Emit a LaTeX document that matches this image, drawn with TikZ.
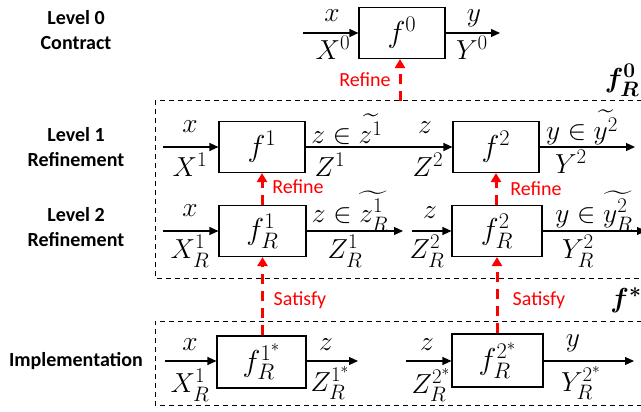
\RequirePackage{fix-cm}
\documentclass[tikz,border=0pt]{standalone}
\usepackage{amsmath}
\usepackage{bm}
\usepackage{fontspec}
\newfontfamily\lblfont{Carlito}
\DeclareMathSizes{25}{25}{19}{14}
\DeclareMathSizes{27}{27}{20}{15}
\usetikzlibrary{arrows.meta}
\newcommand{\bx}[1]{\scalebox{1.12}{#1}}
\tikzset{
  fbox/.style={draw, line width=1.1pt, minimum width=86pt, minimum height=51pt, inner sep=0pt, font=\fontsize{27}{30}\selectfont},
  mlab/.style={inner sep=0pt, scale=1.1, transform shape, font=\fontsize{25}{28}\selectfont},
  lvl/.style={inner sep=0pt, align=center, font=\lblfont\bfseries\fontsize{20}{25}\selectfont},
  redlab/.style={inner sep=0pt, text=red, font=\lblfont\fontsize{20}{24}\selectfont},
  arr/.style={line width=1.1pt, -{Triangle[width=8pt,length=9pt]}},
  redarr/.style={draw=red, line width=3pt, dash pattern=on 10pt off 7pt, -{Triangle[width=10pt,length=9pt]}, red},
  dbox/.style={draw, line width=1pt, dash pattern=on 5pt off 4pt},
}
\begin{document}
\begin{tikzpicture}[x=1pt,y=-1pt]
\useasboundingbox (0,0) rectangle (641,412);
\clip (0,0) rectangle (641,412);
% dashed frames
\draw[dbox] (660,101) -- (155,101) -- (155,278) -- (660,278);
\draw[dbox] (660,321) -- (155,321) -- (155,405) -- (660,405);
% level labels
\node[lvl] (l0) at (76,30) {Level 0\\Contract};
\node[lvl] (l1) at (76,147) {Level 1\\Refinement};
\node[lvl] (l2) at (76,227) {Level 2\\Refinement};
\node[lvl] (li) at (76,361) {Implementation};
% boxes
\node[fbox] (f0) at (402,33) {\bx{$f^0$}};
\node[fbox] (f1) at (262,147) {\bx{$f^1$}};
\node[fbox] (f2) at (496,147) {\bx{$f^2$}};
\node[fbox, minimum width=87pt] (fr1) at (262.5,231) {\bx{$f_R^1$}};
\node[fbox, minimum width=90pt] (fr2) at (497,231) {\bx{$f_R^2$}};
\node[fbox, minimum width=89pt, minimum height=52pt] (fs1) at (261.5,362) {\bx{$f_R^{1^*}$}};
\node[fbox, minimum width=91pt, minimum height=53pt] (fs2) at (497.5,360.5) {\bx{$f_R^{2^*}$}};
% free ends
\coordinate (in0) at (303,33);
\coordinate (out0) at (500,33);
\coordinate (in1) at (163,147);
\coordinate (out2) at (635,147);
\coordinate (in2) at (163,231);
\coordinate (mid2a) at (403,231);
\coordinate (mid2b) at (412,231);
\coordinate (outr2) at (646,231);
\coordinate (ins1) at (165,361);
\coordinate (outs1) at (358,361);
\coordinate (ins2) at (406,361);
\coordinate (outs2) at (634,361);
\coordinate (r0s) at (400,101);
% black arrows
\draw[arr] (in0) -- (f0.west);
\draw[arr] (f0.east) -- (out0);
\draw[arr] (in1) -- (f1.west);
\draw[arr] (f1.east) -- (f2.west);
\draw[arr] (f2.east) -- (out2);
\draw[arr] (in2) -- (fr1.west);
\draw[arr] (fr1.east) -- (mid2a);
\draw[arr] (mid2b) -- (fr2.west);
\draw[arr] (fr2.east) -- (outr2);
\draw[arr] (ins1) -- (ins1 -| fs1.west);
\draw[arr] (ins1 -| fs1.east) -- (outs1);
\draw[arr] (ins2) -- (ins2 -| fs2.west);
\draw[arr] (ins2 -| fs2.east) -- (outs2);
% red arrows
\draw[redarr] (r0s) -- (r0s |- f0.south);
\draw[redarr] (fr1.north -| f1.south) -- (f1.south);
\draw[redarr] (fr2.north -| f2.south) -- (f2.south);
\draw[redarr] (fs1.north -| fr1.south) -- (fr1.south);
\draw[redarr] (fs2.north -| fr2.south) -- (fr2.south);
% red labels
\node[redlab] (t1) at (365,80) {Refine};
\node[redlab] (t2) at (298,187) {Refine};
\node[redlab] (t3) at (536,189) {Refine};
\node[redlab] (t4) at (300,300) {Satisfy};
\node[redlab] (t5) at (539,300) {Satisfy};
% frame labels
\node[mlab] (fR0) at (622,80) {$\bm{f_R^0}$};
\node[mlab] (fst) at (626,300) {$\bm{f^*}$};
% math labels level 0
\node[mlab] (a1) at (332,16) {$x$};
\node[mlab] (a2) at (333,48) {$X^0$};
\node[mlab] (a3) at (474,18) {$y$};
\node[mlab] (a4) at (472,48) {$Y^0$};
% level 1
\node[mlab] (b1) at (190,127) {$x$};
\node[mlab] (b2) at (190,165) {$X^1$};
\node[mlab] (b3) at (347,129) {$z\in\widetilde{z^1}$};
\node[mlab] (b4) at (330,165) {$Z^1$};
\node[mlab] (b5) at (425,128) {$z$};
\node[mlab] (b6) at (428,165) {$Z^2$};
\node[mlab] (b7) at (582,127) {$y\in\widetilde{y^2}$};
\node[mlab] (b8) at (571,162) {$Y^2$};
% level 2
\node[mlab] (c1) at (190,211) {$x$};
\node[mlab] (c2) at (190,251) {$X_R^1$};
\node[mlab] (c3) at (350,211) {$z\in\widetilde{z_R^1}$};
\node[mlab] (c4) at (345,251) {$Z_R^1$};
\node[mlab] (c5) at (430,213) {$z$};
\node[mlab] (c6) at (427,251) {$Z_R^2$};
\node[mlab] (c7) at (594,211) {$y\in\widetilde{y_R^2}$};
\node[mlab] (c8) at (578,251) {$Y_R^2$};
% implementation
\node[mlab] (d1) at (190,345) {$x$};
\node[mlab] (d2) at (190,385) {$X_R^1$};
\node[mlab] (d3) at (326,345) {$z$};
\node[mlab] (d4) at (330,383) {$Z_R^{1^*}$};
\node[mlab] (d5) at (427,345) {$z$};
\node[mlab] (d6) at (431,385) {$Z_R^{2^*}$};
\node[mlab] (d7) at (573,343) {$y$};
\node[mlab] (d8) at (581,383) {$Y_R^{2^*}$};
\end{tikzpicture}
\end{document}
